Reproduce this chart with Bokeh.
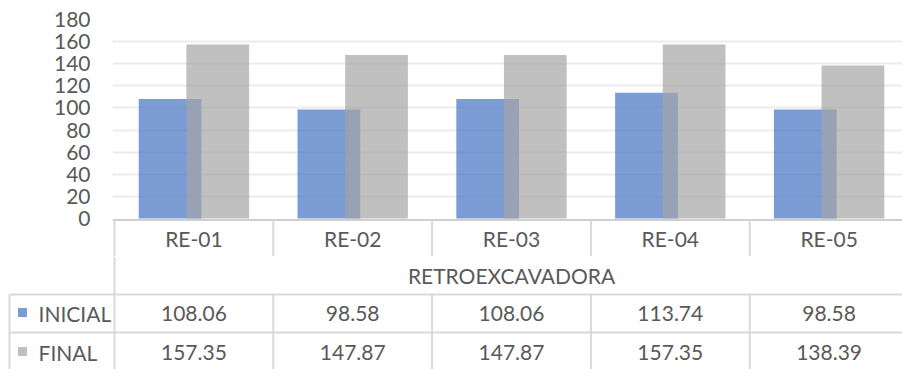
from bokeh.plotting import figure
from bokeh.models import Range1d, FixedTicker, ColumnDataSource
from bokeh.transform import dodge
from bokeh.embed import file_html
from bokeh.resources import INLINE
from bokeh.core.properties import value

# ---- data ----
categories = ["RE-01", "RE-02", "RE-03", "RE-04", "RE-05"]
inicial = [108.06, 98.58, 108.06, 113.74, 98.58]
final = [157.35, 147.87, 147.87, 157.35, 138.39]
group_label = "RETROEXCAVADORA"
series_names = ["INICIAL", "FINAL"]
y_ticks = [0, 20, 40, 60, 80, 100, 120, 140, 160, 180]

# ---- style / layout ----
BLUE = "#4472C4"
GRAY = "#A5A5A5"
TEXT = "#595959"
LINE = "#D9D9D9"
AXIS = "#CFCFCF"
FONT = "Lato"
W = 902
CAT_PX = 158.8          # pixel width of one category
LEFT_PX = 114           # pixels left of first category
PAD = 2                 # extra pixels of frame left of first category (chart)
n = len(categories)
xpos = [i + 0.5 for i in range(n)]
xmax = (W - LEFT_PX) / CAT_PX
xmin = -LEFT_PX / CAT_PX
x1min = -PAD / CAT_PX
bounds = list(range(1, n))

TOP_PX, ZERO_PX, SPLIT_PX, H = 19, 218, 256, 369
YMAX = 180
px_per_unit = (ZERO_PX - TOP_PX) / YMAX
ymin1 = -(SPLIT_PX - ZERO_PX) / px_per_unit


def val_of_px(py):
    return (ZERO_PX - py) / px_per_unit


src = ColumnDataSource(dict(
    x=xpos, cat=categories, inicial=inicial, final=final,
    inicial_txt=[f"{v:.2f}" for v in inicial],
    final_txt=[f"{v:.2f}" for v in final],
))

tstyle = dict(text_font=value(FONT), text_font_size="21px", text_color=TEXT,
              text_baseline="middle")

# ---- chart (with category header row) ----
p1 = figure(width=W, height=SPLIT_PX, x_range=Range1d(x1min, xmax),
            y_range=Range1d(ymin1, YMAX),
            output_backend="svg", toolbar_location=None, x_axis_location=None,
            min_border_left=LEFT_PX - PAD, min_border_right=0, min_border_top=TOP_PX,
            min_border_bottom=0)
p1.outline_line_color = None
p1.xgrid.visible = False
p1.ygrid.ticker = FixedTicker(ticks=y_ticks[1:])
p1.ygrid.grid_line_color = "#ECECEC"
p1.ygrid.grid_line_width = 2
ya = p1.yaxis[0]
ya.ticker = FixedTicker(ticks=y_ticks)
ya.axis_line_color = None
ya.major_tick_line_color = None
ya.minor_tick_line_color = None
ya.major_tick_out = 0
ya.major_tick_in = 0
ya.major_label_standoff = 22
ya.major_label_text_font = FONT
ya.major_label_text_font_size = "21px"
ya.major_label_text_color = TEXT

p1.vbar(x=dodge("x", -0.15, range=p1.x_range), top="inicial", width=0.395, source=src,
        fill_color=BLUE, fill_alpha=0.7, line_color=None)
p1.vbar(x=dodge("x", 0.15, range=p1.x_range), top="final", width=0.395, source=src,
        fill_color=GRAY, fill_alpha=0.7, line_color=None)

y_axis_line = val_of_px(219.5)
p1.segment(x0=[x1min], y0=[y_axis_line], x1=[xmax], y1=[y_axis_line],
           line_color=AXIS, line_width=2)
p1.segment(x0=[0] + bounds, y0=[y_axis_line] * n, x1=[0] + bounds, y1=[ymin1] * n,
           line_color=LINE, line_width=2)
p1.text(x="x", y=val_of_px(238), text="cat", source=src, text_align="center", **tstyle)

# ---- data table ----
p2 = figure(width=W, height=H - SPLIT_PX, x_range=Range1d(xmin, xmax),
            y_range=Range1d(H, SPLIT_PX),
            output_backend="svg", toolbar_location=None, x_axis_location=None,
            y_axis_location=None, min_border=0)
p2.outline_line_color = None
p2.grid.visible = False

x_left_border = xmin + 9 / CAT_PX
Y_ROW1, Y_ROW2 = 294, 332

p2.segment(x0=[0], y0=[SPLIT_PX], x1=[0], y1=[H], line_color=LINE, line_width=2)
p2.segment(x0=bounds, y0=[Y_ROW1] * len(bounds), x1=bounds, y1=[H] * len(bounds),
           line_color=LINE, line_width=2)
p2.segment(x0=[x_left_border], y0=[Y_ROW1], x1=[x_left_border], y1=[H],
           line_color=LINE, line_width=2)
p2.segment(x0=[x_left_border] * 2, y0=[Y_ROW1, Y_ROW2], x1=[xmax] * 2, y1=[Y_ROW1, Y_ROW2],
           line_color=LINE, line_width=2)

p2.text(x=[n / 2], y=[275], text=[group_label], text_align="center", **tstyle)
p2.text(x="x", y=313, text="inicial_txt", source=src, text_align="center", **tstyle)
p2.text(x="x", y=352, text="final_txt", source=src, text_align="center", **tstyle)

leg_sq_x = xmin + 22 / CAT_PX
leg_tx_x = xmin + 38 / CAT_PX
p2.rect(x=[leg_sq_x] * 2, y=[312, 351], width=9, height=9, width_units="screen",
        height_units="screen", fill_color=[BLUE, GRAY], fill_alpha=0.7, line_color=None)
p2.text(x=[leg_tx_x] * 2, y=[313, 352], text=series_names, text_align="left", **tstyle)

open("out.html", "w").write(file_html([p1, p2], INLINE))
